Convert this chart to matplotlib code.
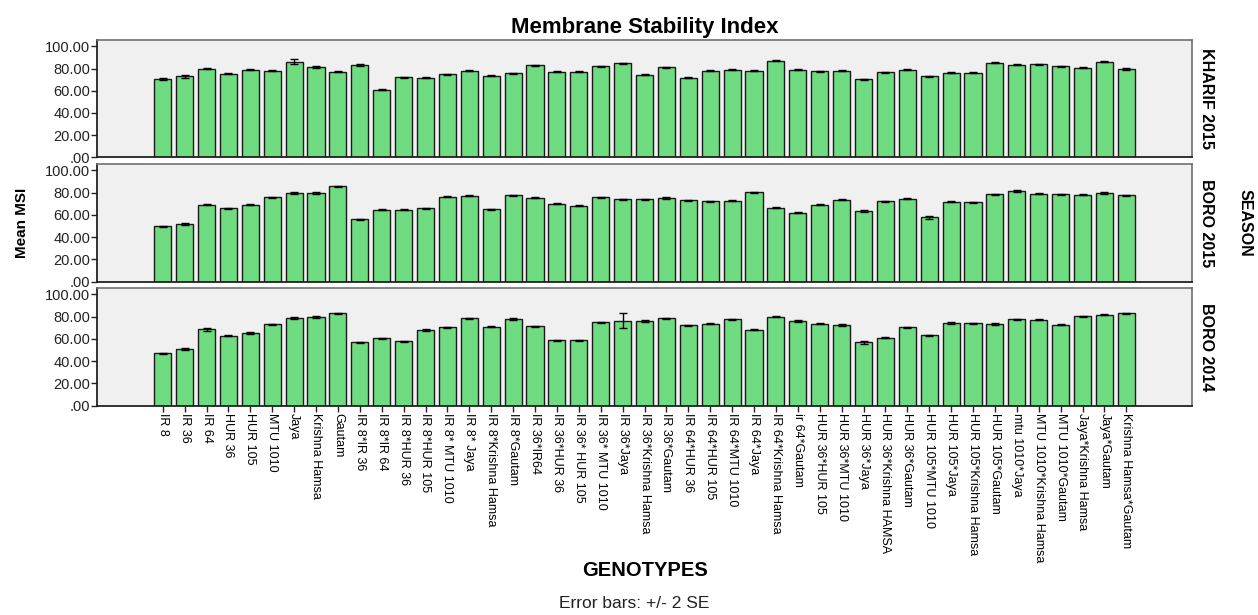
import matplotlib.pyplot as plt
import numpy as np

plt.rcParams['font.family'] = ['Liberation Sans', 'DejaVu Sans']

# Genotipos (eje x)
genotypes = ['IR 8', 'IR 36', 'IR 64', 'HUR 36', 'HUR 105', 'MTU 1010', 'Jaya',
             'Krishna Hamsa', 'Gautam', 'IR 8*IR 36', 'IR 8*IR 64', 'IR 8*HUR 36',
             'IR 8*HUR 105', 'IR 8* MTU 1010', 'IR 8* Jaya', 'IR 8*Krishna Hamsa',
             'IR 8*Gautam', 'IR 36*IR64', 'IR 36*HUR 36', 'IR 36* HUR 105',
             'IR 36* MTU 1010', 'IR 36*Jaya', 'IR 36*Krishna Hamsa', 'IR 36*Gautam',
             'IR 64*HUR 36', 'IR 64*HUR 105', 'IR 64*MTU 1010', 'IR 64*Jaya',
             'IR 64*Krishna Hamsa', 'ir 64*Gautam', 'HUR 36*HUR 105', 'HUR 36*MTU 1010',
             'HUR 36*Jaya', 'HUR 36*Krishna HAMSA', 'HUR 36*Gautam', 'HUR 105*MTU 1010',
             'HUR 105*Jaya', 'HUR 105*Krishna Hamsa', 'HUR 105*Gautam', 'mtu 1010*Jaya',
             'MTU 1010*Krishna Hamsa', 'MTU 1010*Gautam', 'Jaya*Krishna Hamsa',
             'Jaya*Gautam', 'Krishna Hamsa*Gautam']

seasons = ['KHARIF 2015', 'BORO 2015', 'BORO 2014']

# Media MSI por temporada
kharif_2015 = [70.7, 73.1, 79.7, 75.2, 79.1, 77.9, 86.3, 81.5, 77.3, 83.3, 60.9, 72.2,
               71.6, 74.9, 77.9, 73.4, 75.8, 83.0, 77.3, 77.0, 82.1, 84.8, 74.6, 81.2,
               71.6, 78.2, 79.1, 77.9, 87.2, 78.8, 77.6, 78.2, 70.4, 76.7, 78.8, 73.1,
               76.4, 76.1, 85.4, 83.6, 83.9, 82.1, 80.6, 86.3, 79.7]
boro_2015 = [49.8, 52.0, 69.1, 65.8, 69.1, 76.0, 79.3, 79.6, 85.6, 55.9, 64.6, 64.6,
             66.1, 76.3, 77.2, 65.2, 77.5, 75.4, 70.0, 68.2, 75.7, 74.2, 74.2, 75.1,
             73.3, 72.4, 72.7, 80.2, 66.4, 61.9, 69.1, 73.6, 63.4, 72.1, 74.5, 57.7,
             71.8, 71.2, 78.4, 81.7, 79.0, 78.7, 78.1, 79.6, 77.8]
boro_2014 = [47.1, 51.1, 68.6, 62.8, 65.6, 73.1, 78.5, 79.8, 83.1, 57.1, 60.7, 58.0,
             67.7, 70.4, 78.5, 71.0, 77.9, 71.3, 58.9, 58.9, 74.9, 76.4, 76.1, 78.5,
             72.2, 73.7, 77.6, 68.3, 79.8, 76.1, 73.7, 72.5, 56.8, 61.0, 70.4, 63.1,
             74.3, 74.0, 73.4, 77.6, 77.3, 72.8, 80.4, 81.9, 83.1]

# Barras de error (+/- 2 SE)
err_kharif_2015 = [0.8, 1.2, 0.5, 0.5, 0.5, 0.4, 2.0, 0.6, 0.4, 0.7, 0.6, 0.5,
                   0.5, 0.5, 0.4, 0.5, 0.5, 0.5, 0.4, 0.4, 0.5, 0.6, 0.5, 0.4,
                   0.5, 0.4, 0.4, 0.5, 0.5, 0.5, 0.4, 0.4, 0.5, 0.5, 0.5, 0.4,
                   0.5, 0.5, 0.8, 0.7, 0.6, 0.5, 0.5, 0.7, 0.6]
err_boro_2015 = [0.5, 0.6, 0.5, 0.4, 0.5, 0.5, 0.9, 0.6, 0.6, 0.5, 0.4, 0.4,
                 0.4, 0.5, 0.6, 0.5, 0.5, 0.4, 0.5, 0.5, 0.4, 0.5, 0.5, 0.6,
                 0.4, 0.4, 0.5, 0.4, 0.5, 0.5, 0.5, 0.4, 1.0, 0.7, 0.5, 1.6,
                 0.5, 0.8, 0.5, 0.8, 0.6, 0.5, 0.5, 0.6, 0.5]
err_boro_2014 = [0.5, 0.8, 1.5, 0.5, 1.0, 0.5, 0.8, 0.9, 0.6, 0.5, 0.5, 0.5,
                 1.0, 0.5, 0.5, 0.5, 0.5, 0.5, 0.5, 0.5, 0.5, 6.6, 0.6, 0.5,
                 0.5, 0.6, 0.6, 0.5, 0.5, 0.5, 0.5, 0.5, 1.0, 0.5, 0.6, 0.6,
                 0.5, 0.5, 0.6, 0.5, 0.6, 0.5, 0.5, 0.5, 0.5]

data = [kharif_2015, boro_2015, boro_2014]
errs = [err_kharif_2015, err_boro_2015, err_boro_2014]

bar_color = '#70dc82'
W, H = 1258, 615
fig = plt.figure(figsize=(W / 100, H / 100), dpi=100)

# Posiciones de los paneles en pixeles (arriba, abajo)
panel_px = [(40.3, 157.3), (164.3, 281.7), (288.3, 405.7)]
left_px, right_px = 97, 1192
x = np.arange(len(genotypes))
yticks = [0, 20, 40, 60, 80, 100]
ylabels = ['.00', '20.00', '40.00', '60.00', '80.00', '100.00']

axes = []
for i, (top, bot) in enumerate(panel_px):
    ax = fig.add_axes([left_px / W, 1 - bot / H, (right_px - left_px) / W, (bot - top) / H])
    ax.set_facecolor('#f0f0f0')
    ax.bar(x, data[i], width=0.78, color=bar_color, edgecolor='#1a1a1a', linewidth=1.0, zorder=2)
    ax.errorbar(x, data[i], yerr=errs[i], fmt='none', ecolor='black',
                elinewidth=1.0, capsize=3, capthick=1.0, zorder=3)
    ax.set_xlim(-3, len(genotypes) + 2)
    ax.set_ylim(0, 105.5)
    ax.set_yticks(yticks)
    ax.set_yticklabels(ylabels, fontsize=10.5, color='#222222')
    ax.tick_params(axis='y', direction='out', length=4, width=1, color='#222222', pad=1)
    for s in ['top', 'right']:
        ax.spines[s].set_color('#707070')
        ax.spines[s].set_linewidth(1.2)
    for s in ['left', 'bottom']:
        ax.spines[s].set_color('#222222')
        ax.spines[s].set_linewidth(1.3)
    ax.set_xticks(x)
    if i < 2:
        ax.tick_params(axis='x', length=0, labelbottom=False)
    else:
        ax.set_xticklabels(genotypes, rotation=-90, fontsize=9, va='top', ha='center')
        ax.tick_params(axis='x', direction='out', length=4, width=1, color='#222222', pad=1)
    fig.text(1207 / W, 1 - (top + bot) / 2 / H, seasons[i], rotation=-90,
             ha='center', va='center', fontsize=11.5, fontweight='bold')
    axes.append(ax)

fig.text(645 / W, 1 - 27 / H, 'Membrane Stability Index', ha='center', va='center',
         fontsize=16, fontweight='bold')
fig.text(22 / W, 1 - 223 / H, 'Mean MSI', rotation=90, ha='center', va='center',
         fontsize=11, fontweight='bold')
fig.text(1245 / W, 1 - 223 / H, 'SEASON', rotation=-90, ha='center', va='center',
         fontsize=11.5, fontweight='bold')
fig.text(645 / W, 1 - 571 / H, 'GENOTYPES', ha='center', va='center',
         fontsize=14.5, fontweight='bold')
fig.text(634 / W, 1 - 603 / H, 'Error bars: +/- 2 SE', ha='center', va='center',
         fontsize=12.5, color='#222222')

fig.savefig('out.png', dpi=100)
